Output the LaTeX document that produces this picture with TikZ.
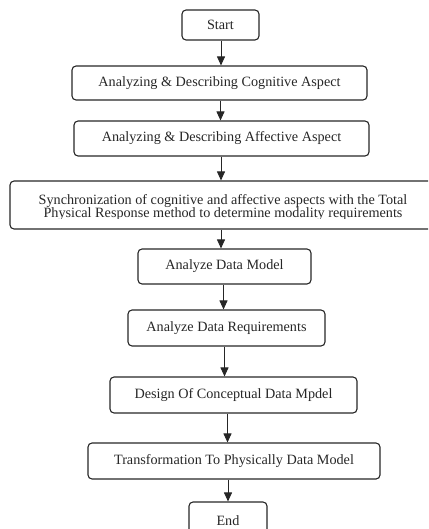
\documentclass[tikz,border=0pt]{standalone}
\usepackage{fontspec}
\setmainfont{Liberation Serif}
\usetikzlibrary{arrows.meta}
\definecolor{ink}{HTML}{262626}
\begin{document}
\begin{tikzpicture}[x=1pt,y=-1pt,
  box/.style={draw=ink, line width=1.1pt, rounded corners=4pt, inner sep=0pt,
    align=center, font=\fontsize{14.2}{15}\selectfont, text=ink},
  txt/.style={inner sep=0pt, font=\fontsize{14.2}{15}\selectfont, text=ink, anchor=base},
  arr/.style={draw=ink, line width=0.9pt, -{Triangle[width=8pt,length=9pt]}}]
\useasboundingbox (0,0) rectangle (428,529);
\clip (0,0) rectangle (428,529);
\node[box, minimum width=77pt, minimum height=30pt] (start) at (220.5,25) {Start};
\node[box, minimum width=295pt, minimum height=34pt] (cog) at (219.5,83) {Analyzing \& Describing Cognitive Aspect};
\node[box, minimum width=295pt, minimum height=35pt] (aff) at (221.5,138.5) {Analyzing \& Describing Affective Aspect};
\node[box, minimum width=426pt, minimum height=48pt] (sync) at (223,205) {};
\node[txt] (sync1) at (223,204.3) {Synchronization of cognitive and affective aspects with the Total};
\begin{scope}
  \clip (0,0) rectangle (428,218.6);
  \node[txt] (sync2) at (223,217.7) {Physical Response method to determine modality requirements};
\end{scope}
\node[box, minimum width=173pt, minimum height=35pt] (adm) at (224.5,266.5) {Analyze Data Model};
\node[box, minimum width=197pt, minimum height=36pt] (adr) at (226.5,328) {Analyze Data Requirements};
\node[box, minimum width=247pt, minimum height=36pt] (des) at (233.5,395) {Design Of Conceptual Data Mpdel};
\node[box, minimum width=292pt, minimum height=36pt] (tra) at (234,461) {Transformation To Physically Data Model};
\node[box, minimum width=78pt, minimum height=38pt] (end) at (228,521) {End};
\coordinate (a1) at (221,0);
\coordinate (a2) at (220.5,0);
\coordinate (a3) at (221,0);
\coordinate (a4) at (221,0);
\coordinate (a5) at (223.5,0);
\coordinate (a6) at (224.5,0);
\coordinate (a7) at (227.5,0);
\coordinate (a8) at (228,0);
\draw[arr] (start.south -| a1) -- (cog.north -| a1);
\draw[arr] (cog.south -| a2) -- (aff.north -| a2);
\draw[arr] (aff.south -| a3) -- (sync.north -| a3);
\draw[arr] (sync.south -| a4) -- (adm.north -| a4);
\draw[arr] (adm.south -| a5) -- (adr.north -| a5);
\draw[arr] (adr.south -| a6) -- (des.north -| a6);
\draw[arr] (des.south -| a7) -- (tra.north -| a7);
\draw[arr] (tra.south -| a8) -- (end.north -| a8);
\end{tikzpicture}
\end{document}
